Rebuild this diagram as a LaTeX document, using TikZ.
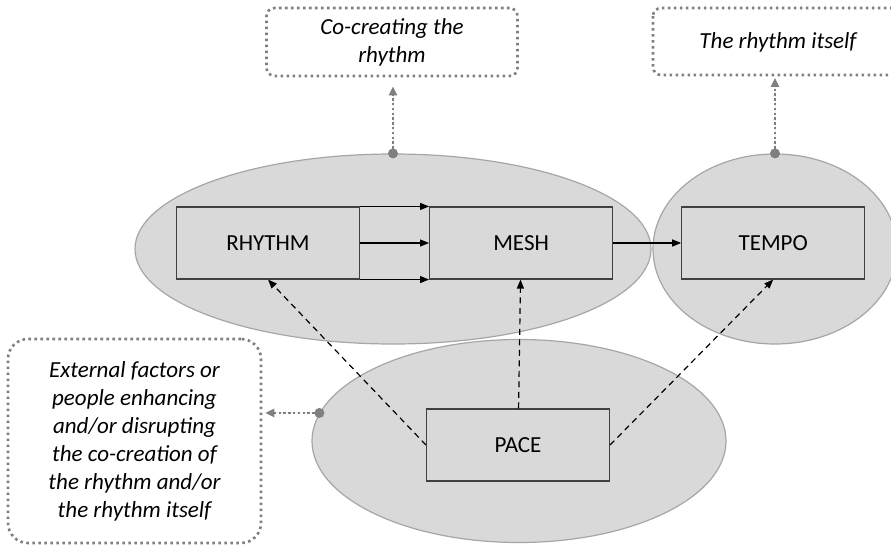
\documentclass[tikz,border=0pt]{standalone}
\usepackage{fontspec}
\setmainfont{Carlito}
\usetikzlibrary{positioning,arrows.meta,shapes.geometric}
\definecolor{ovalfill}{HTML}{D9D9D9}
\definecolor{ovalline}{HTML}{A6A6A6}
\definecolor{notegray}{HTML}{7F7F7F}
\definecolor{boxline}{HTML}{404040}

\begin{document}
\begin{tikzpicture}[
    x=1pt, y=-1pt,
    oval/.style={ellipse, draw=ovalline, fill=ovalfill, line width=1.2pt, inner sep=0pt},
    block/.style={draw=boxline, line width=1.1pt, minimum width=183pt, minimum height=72pt, inner sep=0pt, font=\fontsize{23}{28}\selectfont},
    notebox/.style={draw=notegray, line width=2.6pt, dash pattern=on 2.6pt off 3.4pt, rounded corners=8pt},
    note/.style={notebox, align=center, inner sep=0pt, font=\fontsize{23}{28}\selectfont\itshape},
    arrow/.style={-{Triangle[length=9pt,width=7pt]}, line width=1.2pt},
    dasharrow/.style={arrow, dash pattern=on 6pt off 4.5pt},
    notearrow/.style={-{Triangle[length=9pt,width=8pt]}, draw=notegray, fill=notegray, line width=2.4pt, dash pattern=on 2.4pt off 2.4pt},
    anchordot/.style={circle, fill=notegray, inner sep=0pt, minimum size=10pt}
]
\useasboundingbox (0,0) rectangle (891,546);

% Ovals
\node[oval, minimum width=414pt, minimum height=203pt] (disrupt) at (519,441) {};
\node[oval, minimum width=516pt, minimum height=190pt] (cocreate) at (393,249) {};
\node[oval, minimum width=244pt, minimum height=190pt] (itself) at (775,249) {};

% Blocks
\node[block] (rhythm) at (268,243) {RHYTHM};
\node[block, right=69pt of rhythm] (mesh) {MESH};
\node[block, right=68pt of mesh] (tempo) {TEMPO};
\node[block] (pace) at (518,445) {PACE};

% Notes
\node[note, minimum width=251pt, minimum height=68pt] (notecocreate) at (392,42) {Co-creating the\\rhythm};
\node[note, draw=none, minimum height=67pt] (noteitself) at (778,42) {The rhythm itself};
\draw[notebox] (653,8) rectangle (940,75); % runs off the page on the right
\node[note, rounded corners=20pt, minimum width=253pt, minimum height=204pt] (noteexternal) at (134.5,441)
    {External factors or\\people enhancing\\and/or disrupting\\the co-creation of\\the rhythm and/or\\the rhythm itself};

% Dots on the ovals
\node[anchordot] (dotcocreate) at (cocreate.north) {};
\node[anchordot] (dotitself) at (itself.north) {};
\node[anchordot] (dotdisrupt) at (disrupt.172) {};

% Arrows
\draw[arrow] (rhythm.north east) -- (mesh.north west);
\draw[arrow] (rhythm.east) -- (mesh.west);
\draw[arrow] (rhythm.south east) -- (mesh.south west);
\draw[arrow] (mesh) -- (tempo);
\draw[dasharrow] (pace.west) -- (rhythm.south);
\draw[dasharrow] (pace) -- (mesh);
\draw[dasharrow] (pace.east) -- (tempo.south);
\draw[notearrow, shorten >=9pt] (dotcocreate.center) -- (dotcocreate.center |- notecocreate.south);
\draw[notearrow, shorten >=1pt] (dotitself.center) -- (dotitself.center |- noteitself.south);
\draw[notearrow, shorten >=3pt] (dotdisrupt.center) -- (dotdisrupt.center -| noteexternal.east);
\end{tikzpicture}
\end{document}
